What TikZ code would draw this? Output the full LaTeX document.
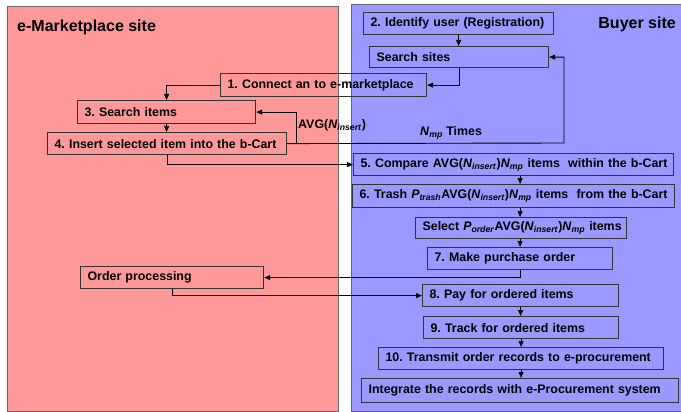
\documentclass[tikz,border=0pt]{standalone}
\usepackage{fontspec}
\setmainfont{Liberation Sans}
\usetikzlibrary{arrows.meta}
\definecolor{mpred}{HTML}{FF9999}
\definecolor{buyblue}{HTML}{9999FF}
\definecolor{boxedge}{HTML}{333333}
\definecolor{paneledge}{HTML}{666666}
\frenchspacing
\newcommand\Nins{\textit{N}\textsubscript{\textit{insert}}}
\newcommand\Nmp{\textit{N}\textsubscript{\textit{mp}}}
\newcommand\Ptr{\textit{P}\textsubscript{\textit{trash}}}
\newcommand\Pord{\textit{P}\textsubscript{\textit{order}}}
\begin{document}
\begin{tikzpicture}[x=1pt,y=-1pt,
  box/.style={draw=boxedge, line width=1.2pt, anchor=north west, inner xsep=7pt, inner ysep=0pt,
    align=left, font=\fontsize{12.4}{14}\selectfont\bfseries},
  lab/.style={anchor=west, inner sep=0pt, font=\fontsize{12.4}{14}\selectfont\bfseries},
  title/.style={inner sep=0pt, font=\fontsize{16}{18}\selectfont\bfseries},
  arr/.style={draw=black, line width=0.9pt, -{Triangle[length=6pt,width=5pt]}},
  panelline/.style={draw=paneledge, line width=1pt}]
\useasboundingbox (0,0) rectangle (681,412);
% panels
\fill[mpred] (7,7) rectangle (338,411);
\draw[panelline] (7,7) rectangle (338,411);
\fill[buyblue] (351,5) rectangle (686,411);
\draw[panelline] (351,5) rectangle (686,411);
\node[title, anchor=west] (tmp) at (17,27) {e-Marketplace site};
\node[title, anchor=east] (tbuy) at (676,24) {Buyer site};
% boxes
\node[box, minimum height=23pt, text width=192pt] (b1) at (220,73) {\mbox{1. Connect an to e-marketplace}};
\node[box, minimum height=22pt, text width=176pt] (b2) at (363,12) {\mbox{2. Identify user (Registration)}};
\node[box, minimum height=21pt, text width=165pt] (ss) at (369,46) {\mbox{Search sites}};
\node[box, minimum height=23pt, text width=164pt] (b3) at (77,100) {\mbox{3. Search items}};
\node[box, minimum height=22pt, text width=225pt] (b4) at (47,132) {\mbox{4. Insert selected item into the b-Cart}};
\node[box, minimum height=22pt, text width=306pt] (b5) at (353,153) {\mbox{5. Compare AVG(\Nins)\Nmp{} items\ \ within the b-Cart}};
\node[box, minimum height=23pt, text width=308pt] (b6) at (352,184) {\mbox{6. Trash \Ptr AVG(\Nins)\Nmp{} items\ \ from the b-Cart}};
\node[box, minimum height=21pt, text width=197pt] (sel) at (415,217) {\mbox{Select \Pord AVG(\Nins)\Nmp{} items}};
\node[box, minimum height=22pt, text width=171pt] (b7) at (427,247) {\mbox{7. Make purchase order}};
\node[box, minimum height=22pt, text width=169pt] (op) at (80,266) {\mbox{Order processing}};
\node[box, minimum height=22pt, text width=182pt] (b8) at (422,284) {\mbox{8. Pay for ordered items}};
\node[box, minimum height=22pt, text width=181pt] (b9) at (423,316) {\mbox{9. Track for ordered items}};
\node[box, minimum height=22pt, text width=271pt] (b10) at (378,347) {\mbox{10. Transmit order records to e-procurement}};
\node[box, minimum height=24pt, text width=303pt] (int) at (361,378) {\mbox{Integrate the records with e-Procurement system}};
% labels
\node[lab] (lavg) at (298,125) {AVG(\Nins)};
\node[lab] (lnmp) at (420,133) {\Nmp{} Times};
% connectors
\coordinate (loopL) at (296,143);
\coordinate (loopR) at (564,143);
\draw[arr] (b2.south) -- (b2.south |- ss.north);
\draw[arr] (ss.south) |- (b1.east);
\draw[arr] (b1.west) -| (b3.north);
\draw[arr] (b3.south) -- (b3.south |- b4.north);
\draw[arr] (b4.east) -- (loopR) |- (ss.east);
\draw[arr] (loopL) |- (b3.east);
\draw[arr] (b4.south) |- (b5.west);
\draw[arr] (b5.south -| b7.south) -- (b6.north -| b7.south);
\draw[arr] (b6.south -| b7.south) -- (sel.north -| b7.south);
\draw[arr] (sel.south -| b7.south) -- (b7.north);
\draw[arr] (b7.south) |- (op.east);
\draw[arr] (op.south) |- (b8.west);
\draw[arr] (b8.south) -- (b8.south |- b9.north);
\draw[arr] (b9.south) -- (b9.south |- b10.north);
\draw[arr] (b10.south) -- (b10.south |- int.north);
\end{tikzpicture}
\end{document}
